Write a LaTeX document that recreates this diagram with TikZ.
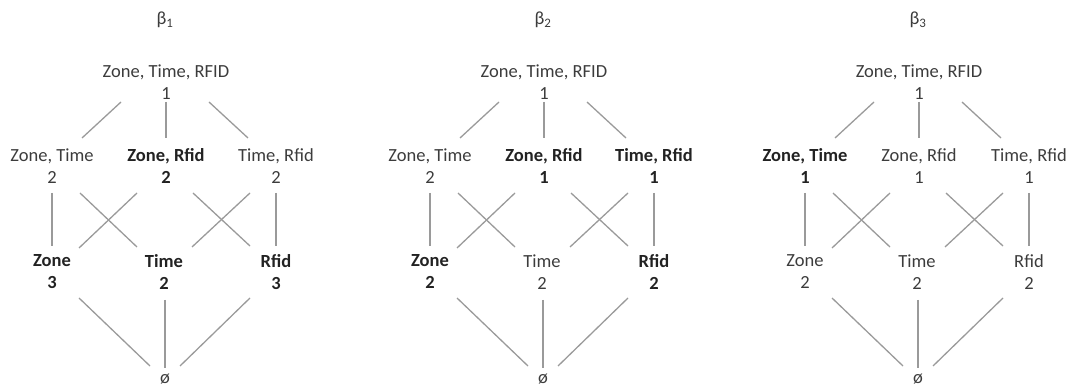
\documentclass[tikz,border=0pt]{standalone}
\usepackage{fontspec}
\setmainfont{Carlito}
\usetikzlibrary{calc}
\definecolor{txt}{HTML}{3C3C3C}
\definecolor{btxt}{HTML}{222222}
\definecolor{edgec}{HTML}{9A9A9A}
\tikzset{
  lbl/.style={align=center,inner sep=0pt,text=txt,font=\fontsize{18.5}{22}\selectfont},
  bl/.style={align=center,inner sep=0pt,text=btxt,font=\fontsize{18.5}{22}\selectfont\bfseries},
  ln/.style={draw=edgec,line width=1.3pt}
}
\newcommand\latedges[1]{%
  \draw[ln] ($(top#1)+(-45,20)$) -- ($(zt#1)+(30,-28)$);
  \draw[ln] ($(top#1)+(0,20)$) -- ($(zr#1)+(0,-28)$);
  \draw[ln] ($(top#1)+(43,20)$) -- ($(tr#1)+(-28,-28)$);
  \draw[ln] ($(zt#1)+(0,27)$) -- ($(z#1)+(0,-26)$);
  \draw[ln] ($(zt#1)+(28,27)$) -- ($(t#1)+(-27,-25)$);
  \draw[ln] ($(zr#1)+(-29,27)$) -- ($(z#1)+(27,-24)$);
  \draw[ln] ($(zr#1)+(27,27)$) -- ($(r#1)+(-26,-26)$);
  \draw[ln] ($(tr#1)+(-26,27)$) -- ($(t#1)+(28,-25)$);
  \draw[ln] ($(tr#1)+(0,27)$) -- ($(r#1)+(0,-26)$);
  \draw[ln] ($(z#1)+(27,26)$) -- ($(e#1)+(-15,-13)$);
  \draw[ln] ($(t#1)+(1,28)$) -- ($(e#1)+(0,-11)$);
  \draw[ln] ($(r#1)+(-26,26)$) -- ($(e#1)+(15,-13)$);
}
\begin{document}
\begin{tikzpicture}[x=1pt,y=-1pt]
\useasboundingbox (0,0) rectangle (1072,387);
% lattice 1
\begin{scope}[xshift=0pt]
\node[lbl] (b1) at (165,20) {β\textsubscript{1}};
\node[lbl] (top1) at (166,82) {Zone, Time, RFID\\1};
\node[lbl] (zt1) at (52,166) {Zone, Time\\2};
\node[bl]  (zr1) at (166,166) {Zone, Rfid\\2};
\node[lbl] (tr1) at (276,166) {Time, Rfid\\2};
\node[bl]  (z1) at (52,272) {Zone\\3};
\node[bl]  (t1) at (164,272) {Time\\2};
\node[bl]  (r1) at (276,272) {Rfid\\3};
\node[lbl] (e1) at (165,379) {ø};
\latedges{1}
\end{scope}
% lattice 2
\begin{scope}[xshift=378pt]
\node[lbl] (b2) at (165,20) {β\textsubscript{2}};
\node[lbl] (top2) at (166,82) {Zone, Time, RFID\\1};
\node[lbl] (zt2) at (52,166) {Zone, Time\\2};
\node[bl]  (zr2) at (166,166) {Zone, Rfid\\1};
\node[bl]  (tr2) at (276,166) {Time, Rfid\\1};
\node[bl]  (z2) at (52,272) {Zone\\2};
\node[lbl] (t2) at (164,272) {Time\\2};
\node[bl]  (r2) at (276,272) {Rfid\\2};
\node[lbl] (e2) at (165,379) {ø};
\latedges{2}
\end{scope}
% lattice 3
\begin{scope}[xshift=753pt]
\node[lbl] (b3) at (165,20) {β\textsubscript{3}};
\node[lbl] (top3) at (166,82) {Zone, Time, RFID\\1};
\node[bl]  (zt3) at (52,166) {Zone, Time\\1};
\node[lbl] (zr3) at (166,166) {Zone, Rfid\\1};
\node[lbl] (tr3) at (276,166) {Time, Rfid\\1};
\node[lbl] (z3) at (52,272) {Zone\\2};
\node[lbl] (t3) at (164,272) {Time\\2};
\node[lbl] (r3) at (276,272) {Rfid\\2};
\node[lbl] (e3) at (165,379) {ø};
\latedges{3}
\end{scope}
\end{tikzpicture}
\end{document}
